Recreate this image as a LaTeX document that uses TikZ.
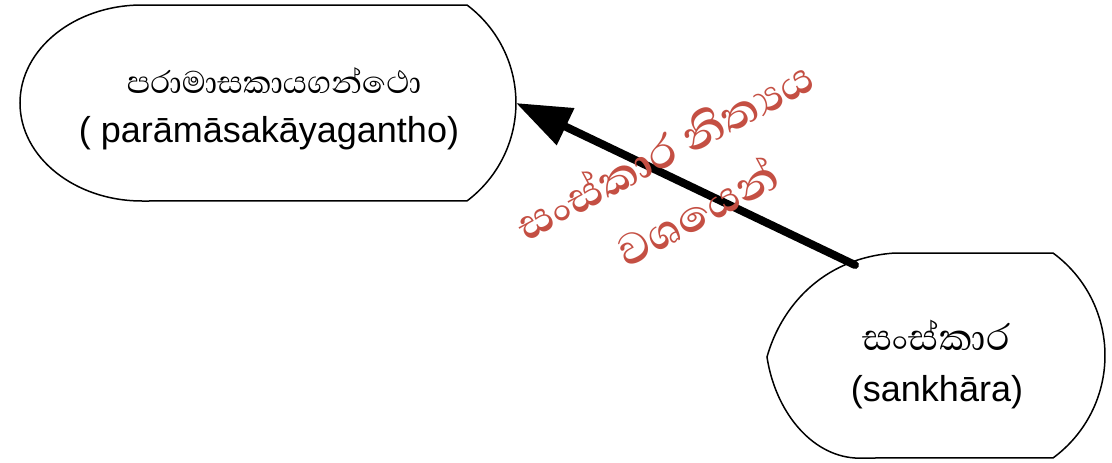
\documentclass[tikz,border=0pt]{standalone}
\usepackage{fontspec}
\setmainfont{Liberation Sans}
\newfontfamily\sinfont[Script=Sinhala]{Abhaya Libre}
\usetikzlibrary{arrows.meta}
\definecolor{redtxt}{RGB}{196,79,67}
\tikzset{
  shapeline/.style={draw=black, line width=1.5pt, line join=miter, fill=white},
  lat/.style={font=\fontsize{36}{40}\selectfont, anchor=base, inner sep=0pt},
  sinb/.style={font=\sinfont\fontsize{40}{44}\selectfont, anchor=base, inner sep=0pt},
  sinbig/.style={font=\sinfont\fontsize{47}{50}\selectfont, anchor=base, inner sep=0pt},
  redlbl/.style={font=\sinfont\bfseries\fontsize{56}{70}\selectfont, text=redtxt, align=center, rotate=28, inner sep=0pt},
  conn/.style={-{Triangle[length=55pt,width=39pt]}, line width=8pt, line cap=round}
}
\begin{document}
\begin{tikzpicture}[x=1pt,y=1pt]
\useasboundingbox (0,0) rectangle (1112,-463);
% left node shape
\draw[shapeline] (142,-5) -- (467,-5) arc[start angle=53.1, end angle=-53.1, radius=122.5]
  -- (142,-201) arc[start angle=-90, end angle=-270, x radius=122, y radius=98] -- cycle;
% right node shape
\draw[shapeline] (895,-253) -- (1053,-253) arc[start angle=53.8, end angle=-53.8, radius=127]
  -- (855,-458) .. controls (810,-455) and (775,-410) .. (767,-357)
  .. controls (780,-310) and (820,-258) .. (895,-253) -- cycle;
\node[sinb] (lsin) at (274,-93) {පරාමාසකායගන්ථො};
\node[lat] (llat) at (269,-142) {( parāmāsakāyagantho)};
\node[sinbig] (rsin) at (936,-350) {සංස්කාර};
\node[lat] (rlat) at (937,-401) {(sankhāra)};
\coordinate (src) at (855,-265);
\coordinate (tgt) at (516,-103);
\draw[conn] (src) -- (tgt);
\node[redlbl] (rel) at (680,-180) {සංස්කාර නිත්‍යය\\වශයෙන්};
\end{tikzpicture}
\end{document}
